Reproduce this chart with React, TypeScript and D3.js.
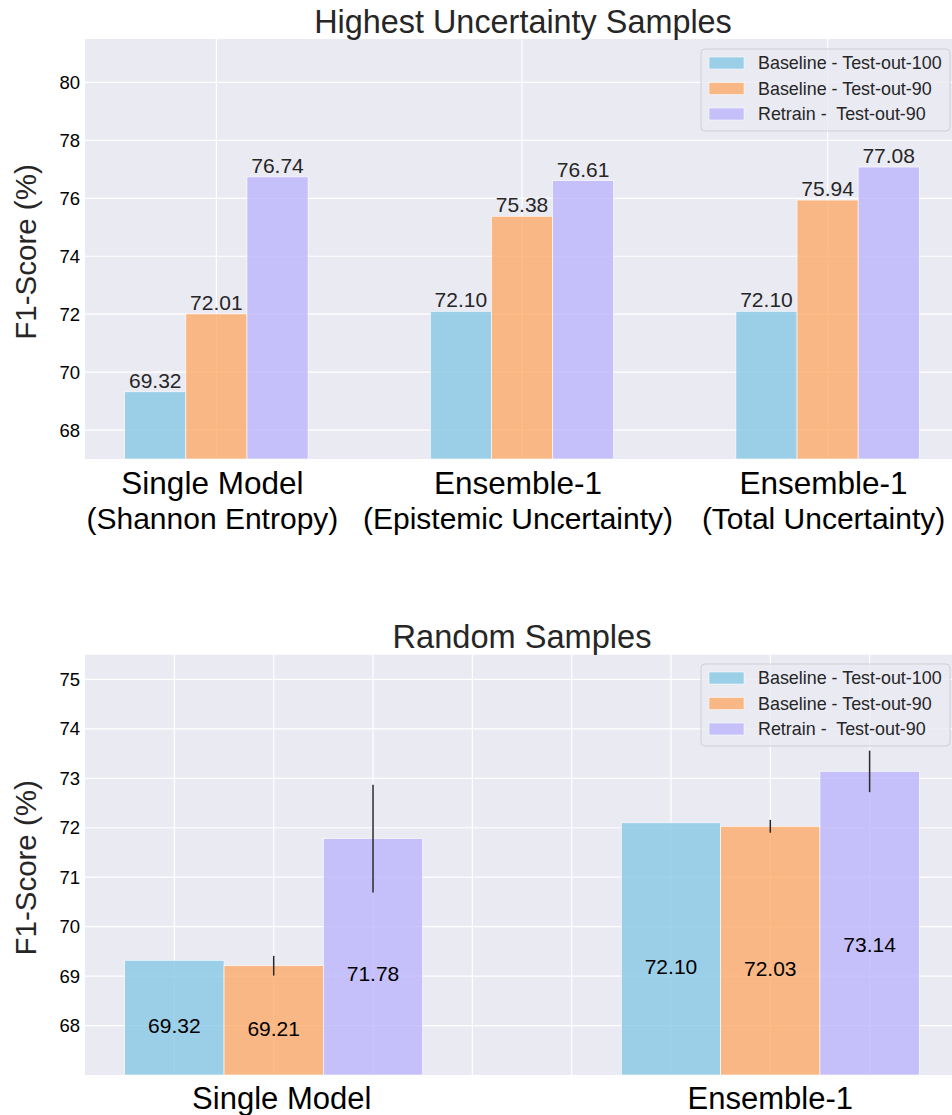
import React from "react";
import * as d3 from "d3";

// ---------- data ----------
const seriesNames = ["Baseline - Test-out-100", "Baseline - Test-out-90", "Retrain -  Test-out-90"];
const seriesColors = ["#87c8e5", "#fdaa69", "#bdb5fb"];

const topCategories = [
  ["Single Model", "(Shannon Entropy)"],
  ["Ensemble-1", "(Epistemic Uncertainty)"],
  ["Ensemble-1", "(Total Uncertainty)"],
];
const topBaseline100 = [69.32, 72.1, 72.1];
const topBaseline90 = [72.01, 75.38, 75.94];
const topRetrain90 = [76.74, 76.61, 77.08];
const topYTicks = [68, 70, 72, 74, 76, 78, 80];

const randCategories = ["Single Model", "Ensemble-1"];
const randBaseline100 = [69.32, 72.1];
const randBaseline90 = [69.21, 72.03];
const randRetrain90 = [71.78, 73.14];
const randBaseline100Err = [0, 0];
const randBaseline90Err = [0.2, 0.13];
const randRetrain90Err = [1.09, 0.42];
const randYTicks = [68, 69, 70, 71, 72, 73, 74, 75];

const FONT = "'Liberation Sans', Arial, Helvetica, sans-serif";
const BG = "#eaeaf2";

function Legend({ x, y }: { x: number; y: number }) {
  const w = 249;
  const h = 82;
  return (
    <g transform={`translate(${x},${y})`}>
      <rect x={0} y={0} width={w} height={h} rx={4} fill={BG} fillOpacity={0.8} stroke="#cfcfd6" strokeWidth={1} />
      {seriesNames.map((n, i) => (
        <g key={n} transform={`translate(0,${14 + i * 25.5})`}>
          <rect x={8} y={-6} width={35} height={12} fill={seriesColors[i]} fillOpacity={0.8} stroke="#fff" strokeWidth={0.5} />
          <text x={57} y={6.3} fontSize={17.9} fill="#262626" fontFamily={FONT} style={{ whiteSpace: "pre" }}>
            {n}
          </text>
        </g>
      ))}
    </g>
  );
}

function TopChart() {
  const left = 85, right = 959, top = 39, bottom = 459;
  const width = 0.2;
  const x = d3.scaleLinear().domain([-0.43, 2.43]).range([left, right]);
  const y = d3.scaleLinear().domain([67, 81.5]).range([bottom, top]);
  const series = [topBaseline100, topBaseline90, topRetrain90];
  const bw = x(width) - x(0);
  return (
    <g>
      <rect x={left} y={top} width={right - left} height={bottom - top} fill={BG} />
      {topYTicks.map((t) => (
        <line key={t} x1={left} x2={right} y1={y(t)} y2={y(t)} stroke="#fff" strokeWidth={1.2} />
      ))}
      {topCategories.map((_, i) => (
        <line key={i} x1={x(i)} x2={x(i)} y1={top} y2={bottom} stroke="#fff" strokeWidth={1.2} />
      ))}
      {series.map((vals, s) =>
        vals.map((v, i) => {
          const cx = x(i + (s - 1) * width);
          return (
            <g key={`${s}-${i}`}>
              <rect x={cx - bw / 2} y={y(v)} width={bw} height={y(67) - y(v)} fill={seriesColors[s]} fillOpacity={0.8} stroke="#fff" strokeWidth={0.6} />
              <text x={cx} y={y(v) - 4} textAnchor="middle" fontSize={21} fill="#262626" fontFamily={FONT}>
                {v.toFixed(2)}
              </text>
            </g>
          );
        })
      )}
      {topYTicks.map((t) => (
        <text key={t} x={80} y={y(t) + 6.5} textAnchor="end" fontSize={18.5} fill="#000" fontFamily={FONT}>
          {t}
        </text>
      ))}
      {topCategories.map((c, i) => (
        <text key={i} textAnchor="middle" fill="#000" fontFamily={FONT}>
          <tspan x={x(i) - 4} y={494} fontSize={31.5}>{c[0]}</tspan>
          <tspan x={x(i) - 4} y={528.5} fontSize={30}>{c[1]}</tspan>
        </text>
      ))}
      <text x={(left + right) / 2 + 1} y={33} textAnchor="middle" fontSize={32.4} fill="#262626" fontFamily={FONT}>
        Highest Uncertainty Samples
      </text>
      <text transform={`translate(36,${(top + bottom) / 2 + 3}) rotate(-90)`} textAnchor="middle" fontSize={29.5} fill="#262626" fontFamily={FONT}>
        F1-Score (%)
      </text>
      <Legend x={701} y={49} />
    </g>
  );
}

function RandomChart() {
  const left = 85, right = 959, top = 654.7, bottom = 1075;
  const x = d3.scaleLinear().domain([-0.9, 7.9]).range([left, right]);
  const y = d3.scaleLinear().domain([67, 75.5]).range([bottom, top]);
  const series = [randBaseline100, randBaseline90, randRetrain90];
  const errs = [randBaseline100Err, randBaseline90Err, randRetrain90Err];
  const groupStart = (g: number) => g * 5;
  const bw = x(1) - x(0);
  const gridX = d3.range(0, 8);
  return (
    <g>
      <rect x={left} y={top} width={right - left} height={bottom - top} fill={BG} />
      {randYTicks.map((t) => (
        <line key={t} x1={left} x2={right} y1={y(t)} y2={y(t)} stroke="#fff" strokeWidth={1.2} />
      ))}
      {gridX.map((g) => (
        <line key={g} x1={x(g)} x2={x(g)} y1={top} y2={bottom} stroke="#fff" strokeWidth={1.2} />
      ))}
      {series.map((vals, s) =>
        vals.map((v, i) => {
          const cx = x(groupStart(i) + s);
          return (
            <rect key={`${s}-${i}`} x={cx - bw / 2} y={y(v)} width={bw} height={y(67) - y(v)} fill={seriesColors[s]} fillOpacity={0.8} stroke="#fff" strokeWidth={0.6} />
          );
        })
      )}
      {series.map((vals, s) =>
        vals.map((v, i) => {
          const cx = x(groupStart(i) + s);
          const e = errs[s][i];
          return e > 0 ? (
            <line key={`e${s}-${i}`} x1={cx} x2={cx} y1={y(v + e)} y2={y(v - e)} stroke="#2a2a2a" strokeWidth={1.5} />
          ) : null;
        })
      )}
      {series.map((vals, s) =>
        vals.map((v, i) => {
          const cx = x(groupStart(i) + s);
          const cy = y(67) - 0.43 * (y(67) - y(v));
          return (
            <text key={`t${s}-${i}`} x={cx} y={cy + 7.5} textAnchor="middle" fontSize={21} fill="#000" fontFamily={FONT}>
              {v.toFixed(2)}
            </text>
          );
        })
      )}
      {randYTicks.map((t) => (
        <text key={t} x={80} y={y(t) + 6.5} textAnchor="end" fontSize={18.5} fill="#000" fontFamily={FONT}>
          {t}
        </text>
      ))}
      {randCategories.map((c, i) => (
        <text key={c} x={x(groupStart(i) + 1) + (i === 0 ? 8 : 0)} y={1108.5} textAnchor="middle" fontSize={31} fill="#000" fontFamily={FONT}>
          {c}
        </text>
      ))}
      <text x={(left + right) / 2} y={648} textAnchor="middle" fontSize={32.6} fill="#262626" fontFamily={FONT}>
        Random Samples
      </text>
      <text transform={`translate(36,${(top + bottom) / 2 + 3}) rotate(-90)`} textAnchor="middle" fontSize={29.5} fill="#262626" fontFamily={FONT}>
        F1-Score (%)
      </text>
      <Legend x={701} y={664} />
    </g>
  );
}

export default function App() {
  return (
    <svg width={952} height={1115} viewBox="0 0 952 1115" style={{ position: "absolute", left: 0, top: 0, background: "#fff" }}>
      <rect x={0} y={0} width={952} height={1115} fill="#fff" />
      <TopChart />
      <RandomChart />
    </svg>
  );
}
